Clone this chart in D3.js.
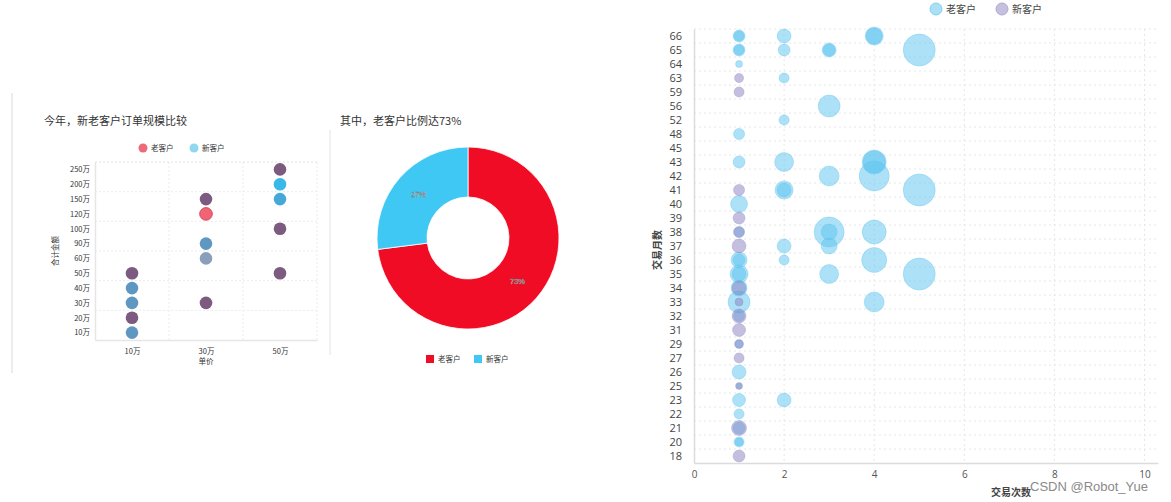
<!DOCTYPE html>
<html><head><meta charset="utf-8">
<script src="https://cdn.jsdelivr.net/npm/d3@7"></script>
<style>
body{margin:0;background:#fff;}
svg{display:block;font-family:"Noto Sans CJK SC","Noto Sans",sans-serif;}
</style></head><body>
<svg id="c" width="1171" height="502"></svg>
<script>
// ---------- DATA ----------
// Left scatter: 今年，新老客户订单规模比较
const priceCats = ['10万','30万','50万'];
const amountCats = ['10万','20万','30万','40万','50万','60万','90万','100万','120万','150万','200万','250万'];
const orderPrice  = ['10万','10万','10万','10万','10万','30万','30万','30万','30万','30万','50万','50万','50万','50万','50万'];
const orderAmount = ['50万','40万','30万','20万','10万','150万','120万','90万','60万','30万','250万','200万','150万','100万','50万'];
const orderGroup  = ['both','new','new','both','new','both','old','new','newGray','both','both','newBright','newMid','both','both'];
const groupKeys   = ['both','new','old','newGray','newBright','newMid'];
const groupColors = ['#7d5b80','#5e98c2','#f06475','#8aa0ba','#3ab9e8','#47a7d7'];

// Donut: 其中，老客户比例达73%
const pieLabels = ['老客户','新客户'];
const pieValues = [73, 27];
const pieColors = ['#f00c24','#40c8f4'];

// Bubble chart: 交易次数 vs 交易月数
const monthCats = ['66','65','64','63','59','56','52','48','45','43','42','41','40','39','38','37','36','35','34','33','32','31','29','27','26','25','23','22','21','20','18'];
const xTicks = [0,2,4,6,8,10];
// [交易次数, 交易月数, 规模]
const oldCustomers = [
  [1,'66',14],[1,'66',10],[2,'66',19],[4,'66',32],[4,'66',25],
  [1,'65',14],[1,'65',10],[2,'65',14],[3,'65',19],[3,'65',14],[5,'65',100],
  [1,'64',4.8],[2,'63',10],[3,'56',47],[2,'52',10],[1,'48',12],
  [1,'43',14],[2,'43',35],[4,'43',56],[4,'43',47],
  [3,'42',39],[4,'42',88],
  [2,'41',32],[2,'41',19],[5,'41',100],
  [1,'40',28],
  [1,'38',10],[3,'38',88],[3,'38',25],[4,'38',56],
  [2,'37',19],[3,'37',25],
  [1,'36',25],[1,'36',14],[2,'36',10],[4,'36',61],
  [1,'35',32],[1,'35',19],[3,'35',35],[5,'35',100],
  [1,'34',25],
  [1,'33',47],[4,'33',39],
  [1,'32',12],[1,'29',6],[1,'26',19],[1,'25',3],
  [1,'23',16.5],[2,'23',19],[1,'22',10],[1,'21',14],[1,'20',10],[1,'20',6.25]
];
const newCustomers = [
  [1,'63',8],[1,'59',10],[1,'41',12],[1,'39',14],[1,'38',12],[1,'37',19],
  [1,'34',19],[1,'33',6.25],[1,'32',19],[1,'31',16.5],[1,'29',8],[1,'27',10],
  [1,'25',4.8],[1,'21',22],[1,'18',14]
];

// ---------- DRAW ----------
const svg = d3.select('#c');

// ===== Left scatter =====
const L = svg.append('g');
L.append('line').attr('x1',12).attr('x2',12).attr('y1',93).attr('y2',373)
  .attr('stroke','#ececec').attr('stroke-width',2);
L.append('line').attr('x1',330).attr('x2',330).attr('y1',130).attr('y2',355)
  .attr('stroke','#ececec').attr('stroke-width',1.5);
L.append('text').attr('x',44).attr('y',125).attr('font-size',11).attr('fill','#333')
  .text('今年，新老客户订单规模比较');

const lx = d3.scalePoint().domain(priceCats).range([95,317]).padding(0.5);
const ly = d3.scalePoint().domain(amountCats).range([340,162]).padding(0.5);
const gcol = d3.scaleOrdinal().domain(groupKeys).range(groupColors);

// grid
const lstepY = ly.step(), lstepX = lx.step();
const gl = L.append('g').attr('stroke','#ececec').attr('stroke-dasharray','2,2');
amountCats.forEach((c,i)=>{ if(i%2===1){ gl.append('line').attr('x1',95).attr('x2',317)
  .attr('y1',ly(c)-lstepY/2).attr('y2',ly(c)-lstepY/2);} });
gl.append('line').attr('x1',95).attr('x2',317).attr('y1',162).attr('y2',162);
priceCats.forEach(c=>{ gl.append('line').attr('x1',lx(c)+lstepX/2).attr('x2',lx(c)+lstepX/2).attr('y1',162).attr('y2',340);});

const lyAxis = L.append('g').attr('transform','translate(95,0)')
  .call(d3.axisLeft(ly).tickSize(0).tickPadding(5));
lyAxis.select('.domain').attr('stroke','#e6e6e6').attr('stroke-width',1.5);
lyAxis.selectAll('text').attr('font-size',7.5).attr('fill','#333').attr('font-family','"Noto Sans CJK SC",sans-serif');
const lxAxis = L.append('g').attr('transform','translate(0,340)')
  .call(d3.axisBottom(lx).tickSize(0).tickPadding(9));
lxAxis.select('.domain').attr('stroke','#e6e6e6').attr('stroke-width',1.5);
lxAxis.selectAll('text').attr('font-size',7.5).attr('fill','#333').attr('font-family','"Noto Sans CJK SC",sans-serif');
L.append('text').attr('x',206).attr('y',364).attr('text-anchor','middle').attr('font-size',7.5).attr('fill','#333').text('单价');
L.append('text').attr('transform','translate(58,251) rotate(-90)').attr('text-anchor','middle')
  .attr('font-size',7.5).attr('fill','#333').text('合计金额');

L.append('g').selectAll('circle').data(orderPrice).join('circle')
  .attr('cx',(d,i)=>lx(orderPrice[i])).attr('cy',(d,i)=>ly(orderAmount[i]))
  .attr('r',6.3).attr('fill',(d,i)=>gcol(orderGroup[i]))
  .attr('stroke',(d,i)=>orderGroup[i]==='old'?'#d84a5c':'none').attr('stroke-width',1);

// legend
const lleg = L.append('g');
[['老客户','#ee6a78'],['新客户','#8fd8f0']].forEach((d,i)=>{
  const x0 = 143 + i*51;
  lleg.append('circle').attr('cx',x0).attr('cy',148).attr('r',4.5).attr('fill',d[1]);
  lleg.append('text').attr('x',x0+8).attr('y',151).attr('font-size',7.5).attr('fill','#333').text(d[0]);
});

// ===== Donut =====
const P = svg.append('g');
P.append('text').attr('x',340).attr('y',125).attr('font-size',11).attr('fill','#333').text('其中，老客户比例达73%');
const pie = d3.pie().sort(null).value(d=>d)(pieValues);
const arc = d3.arc().innerRadius(41).outerRadius(91);
const labelArc = d3.arc().innerRadius(66).outerRadius(66);
const pg = P.append('g').attr('transform','translate(468,238)');
pg.selectAll('path').data(pie).join('path').attr('d',arc)
  .attr('fill',(d,i)=>pieColors[i]).attr('stroke','#fff').attr('stroke-width',0.8);
pg.selectAll('text').data(pie).join('text')
  .attr('transform',d=>`translate(${labelArc.centroid(d)})`)
  .attr('text-anchor','middle').attr('dy','0.35em').attr('font-size',7.5)
  .attr('fill','#fff').attr('stroke','#777').attr('stroke-width',0.4)
  .attr('font-family','"Liberation Sans",sans-serif')
  .text(d=>d.data+'%');
pieLabels.forEach((t,i)=>{
  const x0 = 426 + i*48;
  P.append('rect').attr('x',x0).attr('y',355).attr('width',8).attr('height',8).attr('fill',pieColors[i]);
  P.append('text').attr('x',x0+12).attr('y',362).attr('font-size',7.5).attr('fill','#333').text(t);
});

// ===== Bubble chart =====
const B = svg.append('g');
const bx = d3.scaleLinear().domain([0,10.3]).range([694,1158]);
const by = d3.scaleBand().domain(monthCats).range([29,463]);
const br = d3.scaleSqrt().domain([0,100]).range([0,16]);

const bg = B.append('g').attr('stroke','#e6e6e6').attr('stroke-dasharray','2,3');
monthCats.forEach(c=>{ bg.append('line').attr('x1',694).attr('x2',1158).attr('y1',by(c)).attr('y2',by(c)); });
xTicks.filter(t=>t>0).forEach(t=>{ bg.append('line').attr('x1',bx(t)).attr('x2',bx(t)).attr('y1',29).attr('y2',463); });

const byAxis = B.append('g').attr('transform','translate(694,0)')
  .call(d3.axisLeft(by).tickSize(0).tickPadding(12));
byAxis.select('.domain').attr('stroke','#dcdcdc').attr('stroke-width',1.5);
byAxis.selectAll('text').attr('font-size',11).attr('fill','#444').attr('font-family','"Open Sans",sans-serif');
const bxAxis = B.append('g').attr('transform','translate(0,463)')
  .call(d3.axisBottom(bx).tickValues(xTicks).tickSize(0).tickPadding(8));
bxAxis.select('.domain').attr('stroke','#dcdcdc').attr('stroke-width',1.5);
bxAxis.selectAll('text').attr('font-size',10).attr('fill','#555').attr('font-family','"Open Sans",sans-serif');

B.append('text').attr('x',1011).attr('y',496).attr('text-anchor','middle').attr('font-size',10)
  .attr('font-weight','bold').attr('fill','#444').text('交易次数');
B.append('text').attr('transform','translate(661,250) rotate(-90)').attr('text-anchor','middle')
  .attr('font-size',10).attr('font-weight','bold').attr('fill','#444').text('交易月数');

B.append('g').selectAll('circle').data(oldCustomers).join('circle')
  .attr('cx',d=>bx(d[0])).attr('cy',d=>by(d[1])+by.bandwidth()/2).attr('r',d=>br(d[2]))
  .attr('fill','#5cc4ef').attr('fill-opacity',0.5).attr('stroke','#5cc4ef').attr('stroke-opacity',0.35);
B.append('g').selectAll('circle').data(newCustomers).join('circle')
  .attr('cx',d=>bx(d[0])).attr('cy',d=>by(d[1])+by.bandwidth()/2).attr('r',d=>br(d[2]))
  .attr('fill','#8a80c0').attr('fill-opacity',0.5).attr('stroke','#8a80c0').attr('stroke-opacity',0.3);

[['老客户','#a9e0f5','#86d0ee'],['新客户','#c5c0de','#b0a8d0']].forEach((d,i)=>{
  const x0 = 936 + i*66;
  B.append('circle').attr('cx',x0).attr('cy',9).attr('r',6).attr('fill',d[1]).attr('stroke',d[2]);
  B.append('text').attr('x',x0+10).attr('y',13).attr('font-size',10).attr('fill','#444').text(d[0]);
});

svg.append('text').attr('x',1030).attr('y',491).attr('font-size',13).attr('fill','#8a8a8a')
  .attr('font-family','"Liberation Sans",sans-serif').text('CSDN @Robot_Yue');
</script>
</body></html>
